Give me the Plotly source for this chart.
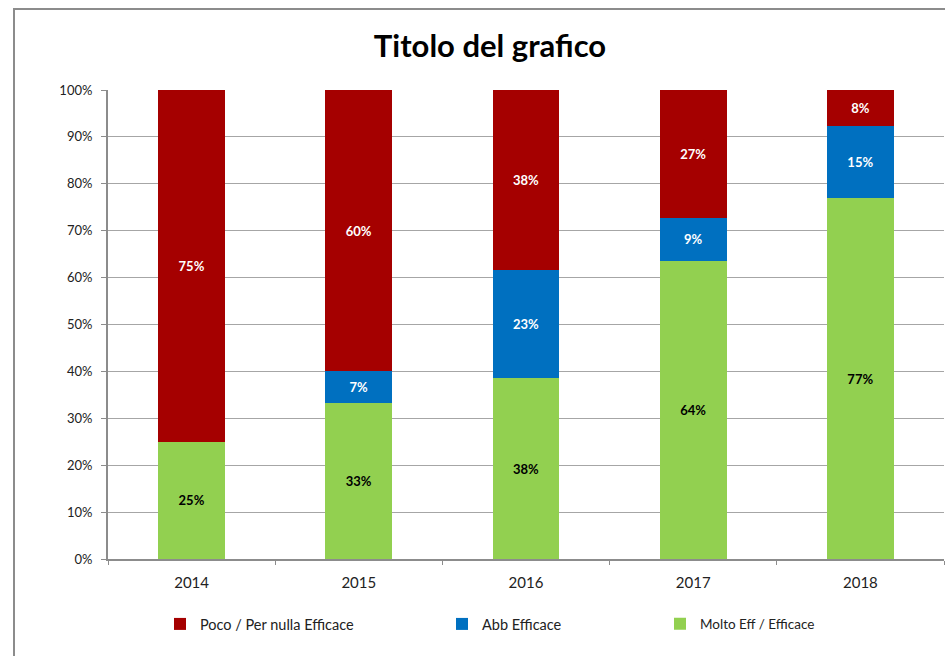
import plotly.graph_objects as go

years = ["2014", "2015", "2016", "2017", "2018"]
poco = [75.0, 60.0, 38.5, 27.3, 7.7]
abb = [0.0, 6.7, 23.1, 9.1, 15.4]
molto = [25.0, 33.3, 38.5, 63.6, 76.9]

names = ["Poco / Per nulla Efficace", "Abb Efficace", "Molto Eff / Efficace"]
colors = ["#A50000", "#0070C0", "#92D050"]
label_colors = ["white", "white", "black"]

W, H = 945, 656
L, R, T, B = 108, 1, 90, 97
pw, ph = W - L - R, H - T - B

def px_x(x):
    return (x - L) / pw

def px_y(y):
    return (H - B - y) / ph

fig = go.Figure()
series_by_idx = {0: poco, 1: abb, 2: molto}
legend_ids = {0: "legend", 1: "legend2", 2: "legend3"}
for idx in [2, 1, 0]:
    vals = series_by_idx[idx]
    texts = [f"{v:.0f}%" if v > 0 else "" for v in vals]
    fig.add_trace(go.Bar(
        x=years, y=vals, name=names[idx],
        marker=dict(color=colors[idx], line=dict(width=0)),
        text=texts, texttemplate="%{text}", textposition="inside",
        insidetextanchor="middle",
        textfont=dict(family="Lato", size=13, color=label_colors[idx], weight="bold"),
        legend=legend_ids[idx], hoverinfo="skip",
    ))

leg_left = [160, 442, 660]
leg_sizes = [14.5, 14.5, 13.5]
for i, key in enumerate(["legend", "legend2", "legend3"]):
    fig.layout[key] = dict(
        x=px_x(leg_left[i]), y=px_y(624), xanchor="left", yanchor="middle",
        orientation="h", bgcolor="rgba(0,0,0,0)",
        font=dict(family="Lato", size=leg_sizes[i], color="#222"),
        itemwidth=30,
    )

fig.update_layout(
    width=W, height=H,
    margin=dict(l=L, r=R, t=T, b=B),
    barmode="stack", bargap=0.6,
    plot_bgcolor="white", paper_bgcolor="white",
    showlegend=True,
    title=dict(text="<b>Titolo del grafico</b>", x=490 / W, xanchor="center",
               y=1 - 46 / H, yanchor="middle",
               font=dict(family="Lato", size=31, color="black")),
    font=dict(family="Lato", color="#222"),
    xaxis=dict(type="category", showline=True, linecolor="#8c8c8c", linewidth=2,
               ticks="outside", tickson="boundaries", ticklen=4, tickcolor="#8c8c8c",
               ticklabelstandoff=9,
               tickfont=dict(size=15, color="#222"), showgrid=False),
    yaxis=dict(range=[0, 100], dtick=10, ticksuffix="%", showline=True,
               linecolor="#8c8c8c", linewidth=2, ticks="outside", ticklen=5,
               tickcolor="#8c8c8c", gridcolor="#a6a6a6", gridwidth=1,
               ticklabelstandoff=6,
               tickfont=dict(size=13, color="#222"), zeroline=False),
    shapes=[dict(type="rect", xref="paper", yref="paper",
                 x0=px_x(14), x1=px_x(960), y0=px_y(9), y1=px_y(700),
                 line=dict(color="#8c8c8c", width=2), layer="below")],
)

fig.write_html("out.html", config={"displayModeBar": False},
               post_script="document.body.style.margin='0';document.body.style.overflow='hidden';")
